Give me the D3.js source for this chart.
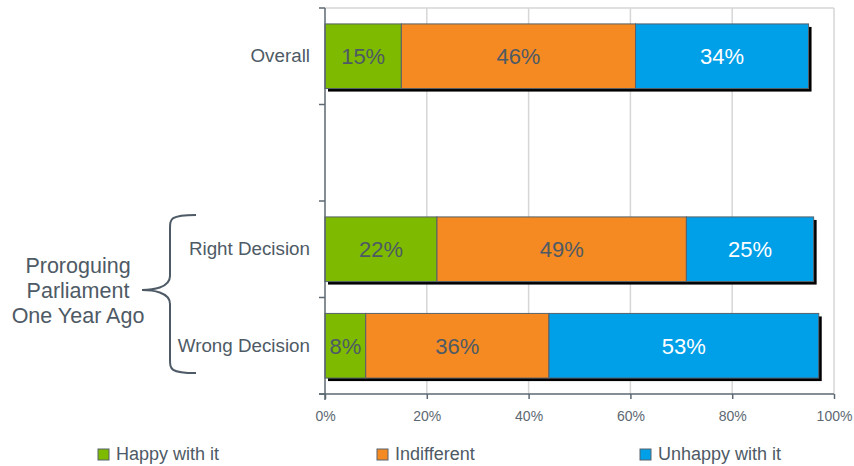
<!DOCTYPE html>
<html>
<head>
<meta charset="utf-8">
<script src="https://cdn.jsdelivr.net/npm/d3@7"></script>
<style>
  body { margin: 0; background: #fff; }
  svg { font-family: "Liberation Sans", Arial, sans-serif; }
</style>
</head>
<body>
<svg id="chart" width="854" height="466"></svg>
<script>
// data
const categories = ["Overall", "", "Right Decision", "Wrong Decision"];
const seriesNames = ["Happy with it", "Indifferent", "Unhappy with it"];
const happy = [15, null, 22, 8];
const indifferent = [46, null, 49, 36];
const unhappy = [34, null, 25, 53];
const xTicks = [0, 20, 40, 60, 80, 100];
const groupLabel = ["Proroguing", "Parliament", "One Year Ago"];

const colors = ["#7dba00", "#f58a22", "#00a0e8"];
const labelColors = ["#4e5a65", "#4e5a65", "#ffffff"];
const textColor = "#4e5a65";
const axisColor = "#5d6872";

const margin = {top: 8, right: 20, bottom: 72, left: 325};
const svg = d3.select("#chart");
const width = +svg.attr("width") - margin.left - margin.right;
const height = +svg.attr("height") - margin.top - margin.bottom;
const g = svg.append("g").attr("transform", `translate(${margin.left}, ${margin.top})`);

const x = d3.scaleLinear().domain([0, 100]).range([0, width]);
const y = d3.scaleBand().domain(d3.range(categories.length)).range([0, height]).paddingInner(0.33).paddingOuter(0.165);

// rows with data
const rows = categories.map((c, i) => ({
  idx: i, cat: c,
  "Happy with it": happy[i], "Indifferent": indifferent[i], "Unhappy with it": unhappy[i]
})).filter(d => d["Happy with it"] != null);

const stacked = d3.stack().keys(seriesNames)(rows);

// gridlines + frame
g.append("g").selectAll("line").data(xTicks.slice(1)).join("line")
  .attr("x1", d => x(d)).attr("x2", d => x(d))
  .attr("y1", 0).attr("y2", height)
  .attr("stroke", "#d6d6d6").attr("stroke-width", 1.5);
g.append("line").attr("x1", 0).attr("x2", width).attr("y1", 0).attr("y2", 0)
  .attr("stroke", "#d6d6d6").attr("stroke-width", 1.5);

// shadows
g.append("g").selectAll("rect").data(rows).join("rect")
  .attr("x", 3)
  .attr("y", d => y(d.idx) + 3)
  .attr("width", d => x(d["Happy with it"] + d["Indifferent"] + d["Unhappy with it"]))
  .attr("height", y.bandwidth())
  .attr("fill", "#000");

// segments
const layer = g.append("g").selectAll("g").data(stacked).join("g");
layer.selectAll("rect").data((s, si) => s.map(d => ({d, si}))).join("rect")
  .attr("x", o => x(o.d[0]))
  .attr("y", o => y(o.d.data.idx))
  .attr("width", o => x(o.d[1]) - x(o.d[0]))
  .attr("height", y.bandwidth())
  .attr("fill", o => colors[o.si])
  .attr("stroke", "#56626c").attr("stroke-width", 1);

layer.selectAll("text").data((s, si) => s.map(d => ({d, si}))).join("text")
  .attr("x", o => (x(o.d[0]) + x(o.d[1])) / 2)
  .attr("y", o => y(o.d.data.idx) + y.bandwidth() / 2)
  .attr("dy", "0.36em")
  .attr("text-anchor", "middle")
  .attr("font-size", 22)
  .attr("fill", o => labelColors[o.si])
  .text(o => (o.d[1] - o.d[0]) + "%");

// x axis
const xAxis = g.append("g")
  .attr("transform", `translate(0, ${height})`)
  .call(d3.axisBottom(x).tickValues(xTicks).tickSize(5).tickSizeOuter(0).tickPadding(12).tickFormat(d => d + "%"));
xAxis.select(".domain").attr("stroke", axisColor).attr("stroke-width", 1.5).attr("d", `M-6,0H${width}`);
xAxis.selectAll(".tick line").attr("stroke", axisColor).attr("stroke-width", 1.5);
xAxis.selectAll(".tick text").attr("font-size", 14).attr("fill", "#5d6872").attr("font-family", null);

// y axis
const yAxis = g.append("g")
  .call(d3.axisLeft(y).tickSize(0).tickPadding(15).tickFormat(i => categories[i]));
yAxis.select(".domain").attr("stroke", axisColor).attr("stroke-width", 1.5).attr("d", `M0,0V${height + 6}`);
yAxis.selectAll(".tick text").attr("font-size", 18.8).attr("fill", textColor).attr("font-family", null);
g.append("g").selectAll("line").data(d3.range(categories.length + 1)).join("line")
  .attr("x1", -6).attr("x2", 0)
  .attr("y1", i => i * y.step()).attr("y2", i => i * y.step())
  .attr("stroke", axisColor).attr("stroke-width", 1.5);

// bracket for group
const yTop = y(2) - 2, yBot = y(3) + y.bandwidth() - 5;
const yMid = (yTop + yBot) / 2 - 4;
const bx = -155, tip = -183, arm = -129;
g.append("path")
  .attr("d", `M${arm},${yTop} C${bx},${yTop} ${bx},${yTop + 4} ${bx},${yTop + 14}
    L${bx},${yMid - 14} C${bx},${yMid - 2} ${tip + 10},${yMid} ${tip},${yMid}
    C${tip + 10},${yMid} ${bx},${yMid + 2} ${bx},${yMid + 14}
    L${bx},${yBot - 14} C${bx},${yBot - 4} ${bx},${yBot} ${arm},${yBot}`)
  .attr("fill", "none").attr("stroke", textColor).attr("stroke-width", 2);

svg.append("g").selectAll("text").data(groupLabel).join("text")
  .attr("x", 78)
  .attr("y", (d, i) => margin.top + yMid - 25 + i * 25)
  .attr("dy", "0.36em")
  .attr("text-anchor", "middle")
  .attr("font-size", 21.5)
  .attr("fill", textColor)
  .text(d => d);

// legend
const legendX = [98, 377, 640];
const legend = svg.append("g").selectAll("g").data(seriesNames).join("g")
  .attr("transform", (d, i) => `translate(${legendX[i]}, 449)`);
legend.append("rect").attr("width", 11).attr("height", 11)
  .attr("fill", (d, i) => colors[i]).attr("stroke", "#56626c").attr("stroke-width", 1);
legend.append("text").attr("x", 18).attr("y", 11)
  .attr("font-size", 18).attr("fill", textColor)
  .text(d => d);
</script>
</body>
</html>
